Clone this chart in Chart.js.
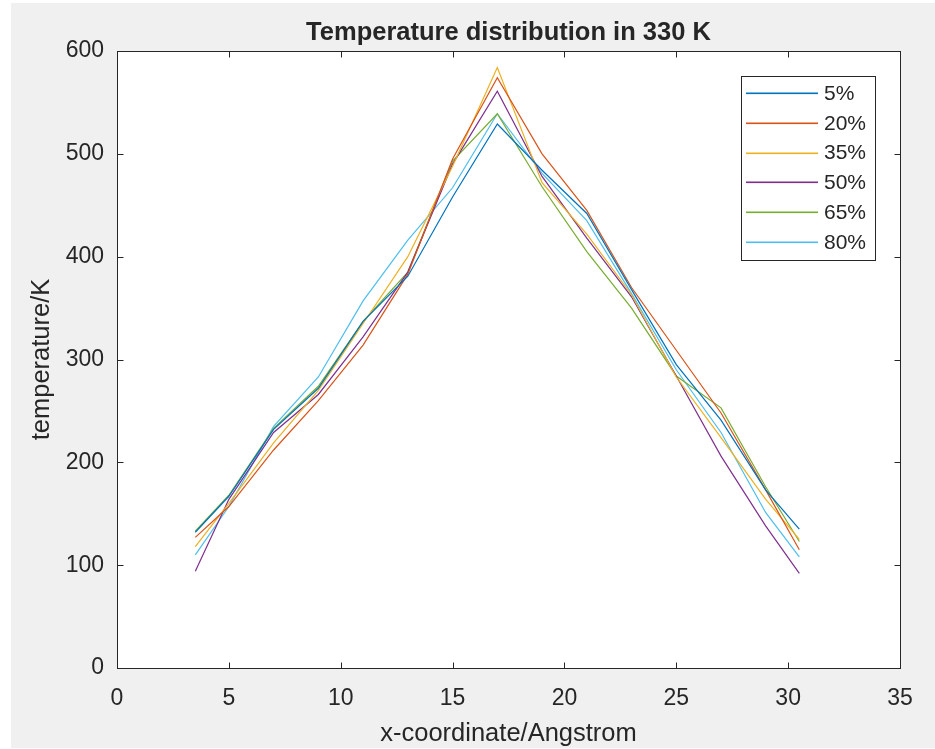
<!DOCTYPE html>
<html>
<head>
<meta charset="utf-8">
<script src="https://cdn.jsdelivr.net/npm/chart.js@4/dist/chart.umd.min.js"></script>
<style>
html,body{margin:0;padding:0;background:#ffffff;}
canvas{display:block;}
</style>
</head>
<body>
<canvas id="c" width="935" height="749"></canvas>
<script>
// ---- data ----
const xCoords = [3.5, 5, 7, 9, 11, 13, 15, 17, 19, 21, 23, 25, 27, 29, 30.5];
const seriesLabels = ['5%', '20%', '35%', '50%', '65%', '80%'];
const s5  = [132, 167, 232, 272, 337, 381, 458, 529, 484, 442, 368, 295, 241, 173, 135];
const s20 = [127, 157, 212, 260, 314, 383, 495, 574, 500, 445, 370, 309, 248, 173, 115];
const s35 = [118, 160, 219, 270, 335, 400, 488, 584, 472, 422, 363, 283, 224, 164, 125];
const s50 = [94, 164, 229, 266, 322, 385, 490, 561, 478, 418, 361, 284, 206, 138, 92];
const s65 = [133, 168, 233, 274, 337, 385, 493, 539, 468, 405, 350, 284, 253, 176, 123];
const s80 = [110, 157, 235, 283, 357, 416, 467, 539, 481, 435, 364, 290, 229, 151, 108];
const xTicks = [0, 5, 10, 15, 20, 25, 30, 35];
const yTicks = [0, 100, 200, 300, 400, 500, 600];
const titleText = 'Temperature distribution in 330 K';
const xLabel = 'x-coordinate/Angstrom';
const yLabel = 'temperature/K';

// ---- styles ----
const colors = ['#0072BD', '#D95319', '#EDB120', '#7E2F8E', '#77AC30', '#4DBEEE'];
const axisColor = '#262626';
const FONT = "'Liberation Sans', Arial, Helvetica, sans-serif";
const allSeries = [s5, s20, s35, s50, s65, s80];

const datasets = allSeries.map((s, i) => ({
  label: seriesLabels[i],
  data: s.map((v, j) => ({x: xCoords[j], y: v})),
  borderColor: colors[i],
  backgroundColor: colors[i],
  borderWidth: 1.2,
  pointRadius: 0,
  tension: 0,
  fill: false
}));

const framePlugin = {
  id: 'frame',
  beforeDraw(chart) {
    const ctx = chart.ctx;
    const a = chart.chartArea;
    ctx.save();
    ctx.fillStyle = '#ffffff';
    ctx.fillRect(0, 0, chart.width, chart.height);
    ctx.fillStyle = '#f0f0f0';
    ctx.fillRect(11, 3, chart.width - 11, 745);
    ctx.fillStyle = '#ffffff';
    ctx.fillRect(a.left, a.top, a.right - a.left, a.bottom - a.top);
    ctx.restore();
  },
  afterDraw(chart) {
    const ctx = chart.ctx;
    const a = chart.chartArea;
    const xs = chart.scales.x, ys = chart.scales.y;
    ctx.save();
    ctx.strokeStyle = axisColor;
    ctx.lineWidth = 1;
    // box
    const L = Math.round(xs.getPixelForValue(0)) + 0.5;
    const R = Math.round(xs.getPixelForValue(35)) + 0.5;
    const T = Math.round(ys.getPixelForValue(600)) + 0.5;
    const B = Math.round(ys.getPixelForValue(0)) + 0.5;
    ctx.strokeRect(L, T, R - L, B - T);
    const tl = 6;
    ctx.beginPath();
    xTicks.forEach(v => {
      const p = Math.round(xs.getPixelForValue(v)) + 0.5;
      ctx.moveTo(p, B); ctx.lineTo(p, B - tl);
      ctx.moveTo(p, T); ctx.lineTo(p, T + tl);
    });
    yTicks.forEach(v => {
      const p = Math.round(ys.getPixelForValue(v)) + 0.5;
      ctx.moveTo(L, p); ctx.lineTo(L + tl, p);
      ctx.moveTo(R, p); ctx.lineTo(R - tl, p);
    });
    ctx.stroke();

    // legend
    const lx = 741, ly = 76, lw = 134, lh = 184;
    ctx.fillStyle = '#ffffff';
    ctx.fillRect(lx, ly, lw, lh);
    ctx.strokeStyle = axisColor;
    ctx.lineWidth = 1;
    ctx.strokeRect(lx + 0.5, ly + 0.5, lw, lh);
    ctx.font = '21px ' + FONT;
    ctx.textBaseline = 'middle';
    ctx.textAlign = 'left';
    chart.data.datasets.forEach((ds, i) => {
      const y = 93 + i * 29.8;
      ctx.fillStyle = colors[i];
      ctx.fillRect(746, Math.round(y) - 0.5, 72, 1.6);
      ctx.fillStyle = axisColor;
      ctx.fillText(ds.label, 824, y + 1);
    });
    ctx.restore();
  }
};

new Chart(document.getElementById('c'), {
  type: 'line',
  data: { datasets },
  plugins: [framePlugin],
  options: {
    responsive: false,
    animation: false,
    layout: { padding: { left: 0, right: 35, top: 0, bottom: 0 } },
    plugins: {
      legend: { display: false },
      tooltip: { enabled: false },
      title: {
        display: true,
        text: titleText,
        color: axisColor,
        font: { family: FONT, size: 25.5, weight: 'bold', lineHeight: 1.2 },
        padding: { top: 18, bottom: 2.4 },
        fullSize: false
      }
    },
    scales: {
      x: {
        type: 'linear',
        min: 0, max: 35,
        afterBuildTicks(scale) { scale.ticks = xTicks.map(v => ({value: v})); },
        afterFit(scale) { scale.height = 81; },
        grid: { display: false, drawTicks: false },
        border: { display: false },
        ticks: { color: axisColor, font: { family: FONT, size: 23 }, padding: 17, maxRotation: 0 },
        title: { display: true, text: xLabel, color: axisColor,
          font: { family: FONT, size: 25.5 }, padding: { top: 0, bottom: 0 } }
      },
      y: {
        type: 'linear',
        min: 0, max: 600,
        afterBuildTicks(scale) { scale.ticks = yTicks.map(v => ({value: v})); },
        afterFit(scale) { scale.width = 117; },
        grid: { display: false, drawTicks: false },
        border: { display: false },
        ticks: { color: axisColor, font: { family: FONT, size: 23 }, padding: 13 },
        title: { display: true, text: yLabel, color: axisColor,
          font: { family: FONT, size: 25.5 }, padding: { top: 27, bottom: 0 } }
      }
    }
  }
});
</script>
</body>
</html>
